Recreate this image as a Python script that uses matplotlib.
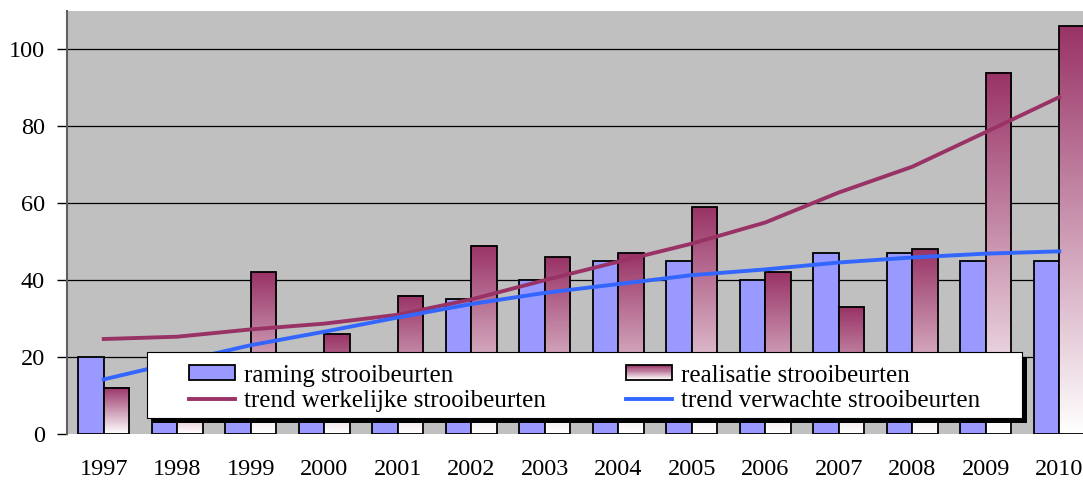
import numpy as np
import matplotlib
matplotlib.use('Agg')
import matplotlib.pyplot as plt
from matplotlib.patches import Rectangle
from matplotlib.colors import LinearSegmentedColormap
from matplotlib.legend_handler import HandlerBase

# data per jaar
years = ['1997', '1998', '1999', '2000', '2001', '2002', '2003',
         '2004', '2005', '2006', '2007', '2008', '2009', '2010']
raming = [20, 20, 20, 20, 20, 35, 40, 45, 45, 40, 47, 47, 45, 45]
realisatie = [12, 15, 42, 26, 36, 49, 46, 47, 59, 42, 33, 48, 94, 106]
trend_werkelijk = [24.7, 25.3, 27.2, 28.7, 31.0, 35.0, 40.0, 44.8, 49.5, 55.0, 62.8, 69.5, 78.5, 87.6]
trend_verwacht = [14.2, 18.7, 23.1, 26.6, 30.3, 33.8, 36.7, 39.0, 41.3, 42.8, 44.6, 45.9, 46.9, 47.5]

plt.rcParams['font.family'] = ['Liberation Serif', 'DejaVu Serif']
plt.rcParams['font.size'] = 17.5

blauw = '#9999ff'
paars = '#993366'
lijnblauw = '#3366ff'
verloop = LinearSegmentedColormap.from_list('verloop', ['#ffffff', paars])


class VerloopHandler(HandlerBase):
    # legenda-vakje met kleurverloop
    def create_artists(self, legend, orig_handle, xdescent, ydescent, width, height, fontsize, trans):
        stukken = []
        n = 14
        for i in range(n):
            stukken.append(Rectangle((-xdescent, -ydescent + height * i / n), width, height / n,
                                     facecolor=verloop(i / (n - 1)), edgecolor='none', transform=trans))
        stukken.append(Rectangle((-xdescent, -ydescent), width, height, facecolor='none',
                                 edgecolor='black', lw=1.3, transform=trans))
        return stukken


fig = plt.figure(figsize=(10.83, 4.83), dpi=100)
ax = fig.add_axes([67 / 1083, 49 / 483, 1029 / 1083, 423 / 483])
ax.set_facecolor('#c0c0c0')

x = np.arange(len(years))
w = 0.345
staaf = ax.bar(x - w / 2, raming, w, color=blauw, edgecolor='black', linewidth=1.3, zorder=2)
grad = np.linspace(0, 1, 256).reshape(-1, 1)
for xi, h in zip(x, realisatie):
    ax.imshow(grad, extent=(xi, xi + w, 0, h), origin='lower', cmap=verloop,
              aspect='auto', zorder=2, interpolation='bilinear')
ax.bar(x + w / 2, realisatie, w, facecolor='none', edgecolor='black', linewidth=1.3, zorder=2.5)

lijn1, = ax.plot(x, trend_werkelijk, color=paars, lw=2.8, zorder=3)
lijn2, = ax.plot(x, trend_verwacht, color=lijnblauw, lw=2.8, zorder=3)

ax.set_xlim(-0.5, 13.5)
ax.set_ylim(0, 110)
ax.set_yticks(range(0, 101, 20))
ax.yaxis.grid(True, color='black', lw=0.9)
ax.set_axisbelow(True)
ax.yaxis.get_gridlines()[0].set_visible(False)
ax.set_xticks(x, years)
ax.tick_params(axis='x', length=0, pad=18)
ax.tick_params(axis='y', length=7, width=1, direction='out', pad=9)
for s in ['top', 'right', 'bottom']:
    ax.spines[s].set_visible(False)
ax.spines['left'].set_color('#606060')
ax.spines['left'].set_linewidth(1.5)

# legenda met eigen kader en zwarte schaduw
bx, by, bw, bh = 0.0777, 0.0378, 0.850, 0.156
ax.add_patch(Rectangle((bx + 5 / 1029, by - 5 / 423), bw, bh, transform=ax.transAxes,
                       facecolor='black', edgecolor='none', zorder=5, clip_on=False))
ax.add_patch(Rectangle((bx, by), bw, bh, transform=ax.transAxes,
                       facecolor='white', edgecolor='black', lw=0.8, zorder=6, clip_on=False))
proxy = Rectangle((0, 0), 1, 1)
leg = ax.legend([staaf, lijn1, proxy, lijn2],
                ['raming strooibeurten', 'trend werkelijke strooibeurten',
                 'realisatie strooibeurten', 'trend verwachte strooibeurten'],
                handler_map={proxy: VerloopHandler()}, fontsize=18,
                ncol=2, frameon=False, loc='center', bbox_to_anchor=(0.503, 0.108),
                handlelength=1.84, handleheight=0.56, handletextpad=0.36,
                columnspacing=3.2, labelspacing=0.14)
leg.set_zorder(7)

fig.savefig('out.png', dpi=100)
